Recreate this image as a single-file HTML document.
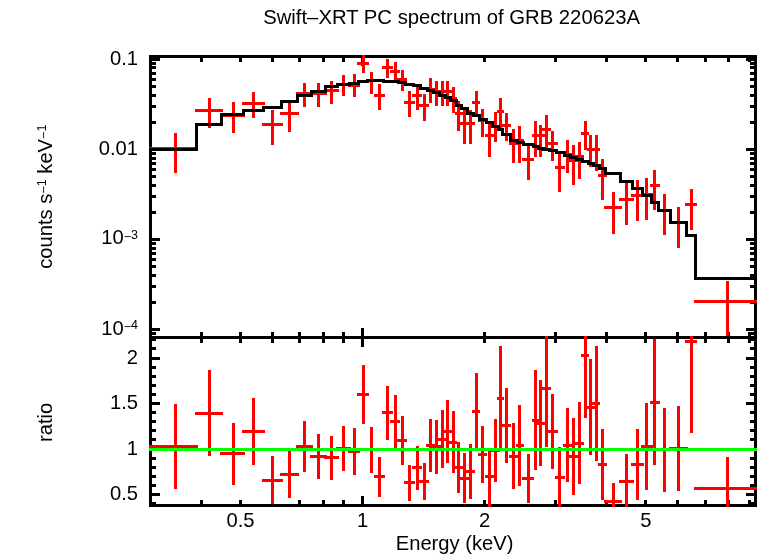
<!DOCTYPE html>
<html><head><meta charset="utf-8"><title>Swift-XRT PC spectrum of GRB 220623A</title>
<style>html,body{margin:0;padding:0;background:#fff;}svg{display:block;}text{font-family:"Liberation Sans",Arial,Helvetica,sans-serif;fill:#000;}</style>
</head><body>
<svg width="758" height="556" viewBox="0 0 758 556">
<rect width="758" height="556" fill="#fff"/>
<g shape-rendering="crispEdges">
<rect x="149" y="55" width="608" height="3" fill="#000"/>
<rect x="149" y="336" width="608" height="3" fill="#000"/>
<rect x="149" y="504" width="608" height="3" fill="#000"/>
<rect x="149" y="55" width="3" height="452" fill="#000"/>
<rect x="754" y="55" width="3" height="452" fill="#000"/>
<rect x="200" y="58" width="3" height="4" fill="#000"/>
<rect x="200" y="332" width="3" height="11" fill="#000"/>
<rect x="200" y="500" width="3" height="4" fill="#000"/>
<rect x="239" y="58" width="3" height="4" fill="#000"/>
<rect x="239" y="332" width="3" height="11" fill="#000"/>
<rect x="239" y="500" width="3" height="4" fill="#000"/>
<rect x="271" y="58" width="3" height="4" fill="#000"/>
<rect x="271" y="332" width="3" height="11" fill="#000"/>
<rect x="271" y="500" width="3" height="4" fill="#000"/>
<rect x="298" y="58" width="3" height="4" fill="#000"/>
<rect x="298" y="332" width="3" height="11" fill="#000"/>
<rect x="298" y="500" width="3" height="4" fill="#000"/>
<rect x="322" y="58" width="3" height="4" fill="#000"/>
<rect x="322" y="332" width="3" height="11" fill="#000"/>
<rect x="322" y="500" width="3" height="4" fill="#000"/>
<rect x="342" y="58" width="3" height="4" fill="#000"/>
<rect x="342" y="332" width="3" height="11" fill="#000"/>
<rect x="342" y="500" width="3" height="4" fill="#000"/>
<rect x="361" y="58" width="3" height="8" fill="#000"/>
<rect x="361" y="328" width="3" height="19" fill="#000"/>
<rect x="361" y="496" width="3" height="8" fill="#000"/>
<rect x="483" y="58" width="3" height="4" fill="#000"/>
<rect x="483" y="332" width="3" height="11" fill="#000"/>
<rect x="483" y="500" width="3" height="4" fill="#000"/>
<rect x="554" y="58" width="3" height="4" fill="#000"/>
<rect x="554" y="332" width="3" height="11" fill="#000"/>
<rect x="554" y="500" width="3" height="4" fill="#000"/>
<rect x="605" y="58" width="3" height="4" fill="#000"/>
<rect x="605" y="332" width="3" height="11" fill="#000"/>
<rect x="605" y="500" width="3" height="4" fill="#000"/>
<rect x="644" y="58" width="3" height="4" fill="#000"/>
<rect x="644" y="332" width="3" height="11" fill="#000"/>
<rect x="644" y="500" width="3" height="4" fill="#000"/>
<rect x="676" y="58" width="3" height="4" fill="#000"/>
<rect x="676" y="332" width="3" height="11" fill="#000"/>
<rect x="676" y="500" width="3" height="4" fill="#000"/>
<rect x="704" y="58" width="3" height="4" fill="#000"/>
<rect x="704" y="332" width="3" height="11" fill="#000"/>
<rect x="704" y="500" width="3" height="4" fill="#000"/>
<rect x="727" y="58" width="3" height="4" fill="#000"/>
<rect x="727" y="332" width="3" height="11" fill="#000"/>
<rect x="727" y="500" width="3" height="4" fill="#000"/>
<rect x="748" y="58" width="3" height="4" fill="#000"/>
<rect x="748" y="332" width="3" height="11" fill="#000"/>
<rect x="748" y="500" width="3" height="4" fill="#000"/>
<rect x="152" y="332" width="4" height="3" fill="#000"/>
<rect x="750" y="332" width="4" height="3" fill="#000"/>
<rect x="152" y="328" width="8" height="3" fill="#000"/>
<rect x="746" y="328" width="8" height="3" fill="#000"/>
<rect x="152" y="301" width="4" height="3" fill="#000"/>
<rect x="750" y="301" width="4" height="3" fill="#000"/>
<rect x="152" y="285" width="4" height="3" fill="#000"/>
<rect x="750" y="285" width="4" height="3" fill="#000"/>
<rect x="152" y="274" width="4" height="3" fill="#000"/>
<rect x="750" y="274" width="4" height="3" fill="#000"/>
<rect x="152" y="265" width="4" height="3" fill="#000"/>
<rect x="750" y="265" width="4" height="3" fill="#000"/>
<rect x="152" y="258" width="4" height="3" fill="#000"/>
<rect x="750" y="258" width="4" height="3" fill="#000"/>
<rect x="152" y="252" width="4" height="3" fill="#000"/>
<rect x="750" y="252" width="4" height="3" fill="#000"/>
<rect x="152" y="247" width="4" height="3" fill="#000"/>
<rect x="750" y="247" width="4" height="3" fill="#000"/>
<rect x="152" y="242" width="4" height="3" fill="#000"/>
<rect x="750" y="242" width="4" height="3" fill="#000"/>
<rect x="152" y="238" width="8" height="3" fill="#000"/>
<rect x="746" y="238" width="8" height="3" fill="#000"/>
<rect x="152" y="211" width="4" height="3" fill="#000"/>
<rect x="750" y="211" width="4" height="3" fill="#000"/>
<rect x="152" y="195" width="4" height="3" fill="#000"/>
<rect x="750" y="195" width="4" height="3" fill="#000"/>
<rect x="152" y="184" width="4" height="3" fill="#000"/>
<rect x="750" y="184" width="4" height="3" fill="#000"/>
<rect x="152" y="175" width="4" height="3" fill="#000"/>
<rect x="750" y="175" width="4" height="3" fill="#000"/>
<rect x="152" y="168" width="4" height="3" fill="#000"/>
<rect x="750" y="168" width="4" height="3" fill="#000"/>
<rect x="152" y="162" width="4" height="3" fill="#000"/>
<rect x="750" y="162" width="4" height="3" fill="#000"/>
<rect x="152" y="157" width="4" height="3" fill="#000"/>
<rect x="750" y="157" width="4" height="3" fill="#000"/>
<rect x="152" y="152" width="4" height="3" fill="#000"/>
<rect x="750" y="152" width="4" height="3" fill="#000"/>
<rect x="152" y="148" width="8" height="3" fill="#000"/>
<rect x="746" y="148" width="8" height="3" fill="#000"/>
<rect x="152" y="121" width="4" height="3" fill="#000"/>
<rect x="750" y="121" width="4" height="3" fill="#000"/>
<rect x="152" y="105" width="4" height="3" fill="#000"/>
<rect x="750" y="105" width="4" height="3" fill="#000"/>
<rect x="152" y="94" width="4" height="3" fill="#000"/>
<rect x="750" y="94" width="4" height="3" fill="#000"/>
<rect x="152" y="85" width="4" height="3" fill="#000"/>
<rect x="750" y="85" width="4" height="3" fill="#000"/>
<rect x="152" y="78" width="4" height="3" fill="#000"/>
<rect x="750" y="78" width="4" height="3" fill="#000"/>
<rect x="152" y="72" width="4" height="3" fill="#000"/>
<rect x="750" y="72" width="4" height="3" fill="#000"/>
<rect x="152" y="66" width="4" height="3" fill="#000"/>
<rect x="750" y="66" width="4" height="3" fill="#000"/>
<rect x="152" y="62" width="4" height="3" fill="#000"/>
<rect x="750" y="62" width="4" height="3" fill="#000"/>
<rect x="152" y="58" width="8" height="3" fill="#000"/>
<rect x="746" y="58" width="8" height="3" fill="#000"/>
<rect x="152" y="502" width="4" height="3" fill="#000"/>
<rect x="750" y="502" width="4" height="3" fill="#000"/>
<rect x="152" y="493" width="8" height="3" fill="#000"/>
<rect x="746" y="493" width="8" height="3" fill="#000"/>
<rect x="152" y="484" width="4" height="3" fill="#000"/>
<rect x="750" y="484" width="4" height="3" fill="#000"/>
<rect x="152" y="475" width="4" height="3" fill="#000"/>
<rect x="750" y="475" width="4" height="3" fill="#000"/>
<rect x="152" y="466" width="4" height="3" fill="#000"/>
<rect x="750" y="466" width="4" height="3" fill="#000"/>
<rect x="152" y="457" width="4" height="3" fill="#000"/>
<rect x="750" y="457" width="4" height="3" fill="#000"/>
<rect x="152" y="448" width="8" height="3" fill="#000"/>
<rect x="746" y="448" width="8" height="3" fill="#000"/>
<rect x="152" y="438" width="4" height="3" fill="#000"/>
<rect x="750" y="438" width="4" height="3" fill="#000"/>
<rect x="152" y="429" width="4" height="3" fill="#000"/>
<rect x="750" y="429" width="4" height="3" fill="#000"/>
<rect x="152" y="420" width="4" height="3" fill="#000"/>
<rect x="750" y="420" width="4" height="3" fill="#000"/>
<rect x="152" y="411" width="4" height="3" fill="#000"/>
<rect x="750" y="411" width="4" height="3" fill="#000"/>
<rect x="152" y="402" width="8" height="3" fill="#000"/>
<rect x="746" y="402" width="8" height="3" fill="#000"/>
<rect x="152" y="393" width="4" height="3" fill="#000"/>
<rect x="750" y="393" width="4" height="3" fill="#000"/>
<rect x="152" y="384" width="4" height="3" fill="#000"/>
<rect x="750" y="384" width="4" height="3" fill="#000"/>
<rect x="152" y="375" width="4" height="3" fill="#000"/>
<rect x="750" y="375" width="4" height="3" fill="#000"/>
<rect x="152" y="366" width="4" height="3" fill="#000"/>
<rect x="750" y="366" width="4" height="3" fill="#000"/>
<rect x="152" y="357" width="8" height="3" fill="#000"/>
<rect x="746" y="357" width="8" height="3" fill="#000"/>
<rect x="152" y="347" width="4" height="3" fill="#000"/>
<rect x="750" y="347" width="4" height="3" fill="#000"/>
<rect x="152" y="338" width="4" height="3" fill="#000"/>
<rect x="750" y="338" width="4" height="3" fill="#000"/>
<rect x="149" y="147" width="49" height="3" fill="#f00"/>
<rect x="174" y="133" width="3" height="40" fill="#f00"/>
<rect x="195" y="109" width="28" height="3" fill="#f00"/>
<rect x="208" y="98" width="3" height="30" fill="#f00"/>
<rect x="220" y="114" width="25" height="3" fill="#f00"/>
<rect x="232" y="102" width="3" height="31" fill="#f00"/>
<rect x="242" y="102" width="23" height="3" fill="#f00"/>
<rect x="252" y="92" width="3" height="26" fill="#f00"/>
<rect x="262" y="123" width="21" height="3" fill="#f00"/>
<rect x="271" y="110" width="3" height="35" fill="#f00"/>
<rect x="280" y="112" width="19" height="3" fill="#f00"/>
<rect x="288" y="103" width="3" height="29" fill="#f00"/>
<rect x="296" y="92" width="17" height="3" fill="#f00"/>
<rect x="303" y="83" width="3" height="24" fill="#f00"/>
<rect x="310" y="92" width="17" height="3" fill="#f00"/>
<rect x="317" y="83" width="3" height="24" fill="#f00"/>
<rect x="324" y="89" width="15" height="3" fill="#f00"/>
<rect x="330" y="81" width="3" height="23" fill="#f00"/>
<rect x="336" y="83" width="15" height="3" fill="#f00"/>
<rect x="342" y="75" width="3" height="21" fill="#f00"/>
<rect x="348" y="84" width="12" height="3" fill="#f00"/>
<rect x="353" y="74" width="3" height="23" fill="#f00"/>
<rect x="357" y="62" width="12" height="3" fill="#f00"/>
<rect x="362" y="55" width="3" height="18" fill="#f00"/>
<rect x="366" y="79" width="11" height="3" fill="#f00"/>
<rect x="370" y="72" width="3" height="22" fill="#f00"/>
<rect x="374" y="94" width="11" height="3" fill="#f00"/>
<rect x="378" y="84" width="3" height="26" fill="#f00"/>
<rect x="382" y="66" width="11" height="3" fill="#f00"/>
<rect x="386" y="59" width="3" height="19" fill="#f00"/>
<rect x="390" y="70" width="10" height="3" fill="#f00"/>
<rect x="394" y="62" width="3" height="18" fill="#f00"/>
<rect x="397" y="78" width="10" height="3" fill="#f00"/>
<rect x="401" y="70" width="3" height="21" fill="#f00"/>
<rect x="404" y="101" width="11" height="3" fill="#f00"/>
<rect x="408" y="91" width="3" height="26" fill="#f00"/>
<rect x="412" y="94" width="10" height="3" fill="#f00"/>
<rect x="416" y="87" width="3" height="23" fill="#f00"/>
<rect x="419" y="104" width="10" height="3" fill="#f00"/>
<rect x="423" y="94" width="3" height="27" fill="#f00"/>
<rect x="426" y="88" width="9" height="3" fill="#f00"/>
<rect x="429" y="78" width="3" height="25" fill="#f00"/>
<rect x="432" y="90" width="9" height="3" fill="#f00"/>
<rect x="435" y="81" width="3" height="25" fill="#f00"/>
<rect x="438" y="90" width="8" height="3" fill="#f00"/>
<rect x="441" y="81" width="3" height="25" fill="#f00"/>
<rect x="444" y="90" width="8" height="3" fill="#f00"/>
<rect x="446" y="81" width="3" height="25" fill="#f00"/>
<rect x="449" y="97" width="8" height="3" fill="#f00"/>
<rect x="452" y="87" width="3" height="26" fill="#f00"/>
<rect x="455" y="112" width="8" height="3" fill="#f00"/>
<rect x="457" y="101" width="3" height="30" fill="#f00"/>
<rect x="460" y="122" width="9" height="3" fill="#f00"/>
<rect x="463" y="110" width="3" height="34" fill="#f00"/>
<rect x="466" y="122" width="9" height="3" fill="#f00"/>
<rect x="469" y="110" width="3" height="34" fill="#f00"/>
<rect x="472" y="101" width="8" height="3" fill="#f00"/>
<rect x="475" y="91" width="3" height="26" fill="#f00"/>
<rect x="478" y="119" width="9" height="3" fill="#f00"/>
<rect x="481" y="109" width="3" height="28" fill="#f00"/>
<rect x="485" y="134" width="9" height="3" fill="#f00"/>
<rect x="488" y="123" width="3" height="34" fill="#f00"/>
<rect x="491" y="125" width="9" height="3" fill="#f00"/>
<rect x="494" y="112" width="3" height="30" fill="#f00"/>
<rect x="497" y="110" width="7" height="3" fill="#f00"/>
<rect x="499" y="98" width="3" height="30" fill="#f00"/>
<rect x="501" y="124" width="10" height="3" fill="#f00"/>
<rect x="505" y="113" width="3" height="28" fill="#f00"/>
<rect x="509" y="142" width="9" height="3" fill="#f00"/>
<rect x="512" y="129" width="3" height="34" fill="#f00"/>
<rect x="516" y="139" width="8" height="3" fill="#f00"/>
<rect x="518" y="126" width="3" height="37" fill="#f00"/>
<rect x="522" y="158" width="12" height="3" fill="#f00"/>
<rect x="527" y="145" width="3" height="35" fill="#f00"/>
<rect x="532" y="134" width="7" height="3" fill="#f00"/>
<rect x="534" y="121" width="3" height="36" fill="#f00"/>
<rect x="537" y="134" width="8" height="3" fill="#f00"/>
<rect x="539" y="125" width="3" height="32" fill="#f00"/>
<rect x="542" y="128" width="9" height="3" fill="#f00"/>
<rect x="545" y="115" width="3" height="33" fill="#f00"/>
<rect x="548" y="142" width="10" height="3" fill="#f00"/>
<rect x="551" y="131" width="3" height="30" fill="#f00"/>
<rect x="555" y="166" width="10" height="3" fill="#f00"/>
<rect x="558" y="153" width="3" height="39" fill="#f00"/>
<rect x="563" y="153" width="9" height="3" fill="#f00"/>
<rect x="566" y="140" width="3" height="33" fill="#f00"/>
<rect x="569" y="159" width="9" height="3" fill="#f00"/>
<rect x="572" y="145" width="3" height="40" fill="#f00"/>
<rect x="575" y="155" width="9" height="3" fill="#f00"/>
<rect x="578" y="142" width="3" height="37" fill="#f00"/>
<rect x="581" y="132" width="8" height="3" fill="#f00"/>
<rect x="584" y="121" width="3" height="29" fill="#f00"/>
<rect x="587" y="148" width="8" height="3" fill="#f00"/>
<rect x="589" y="135" width="3" height="32" fill="#f00"/>
<rect x="592" y="148" width="8" height="3" fill="#f00"/>
<rect x="595" y="135" width="3" height="36" fill="#f00"/>
<rect x="598" y="174" width="9" height="3" fill="#f00"/>
<rect x="601" y="159" width="3" height="41" fill="#f00"/>
<rect x="604" y="206" width="18" height="3" fill="#f00"/>
<rect x="612" y="192" width="3" height="42" fill="#f00"/>
<rect x="619" y="198" width="15" height="3" fill="#f00"/>
<rect x="625" y="183" width="3" height="42" fill="#f00"/>
<rect x="631" y="194" width="13" height="3" fill="#f00"/>
<rect x="636" y="180" width="3" height="41" fill="#f00"/>
<rect x="641" y="193" width="12" height="3" fill="#f00"/>
<rect x="645" y="178" width="3" height="42" fill="#f00"/>
<rect x="650" y="184" width="10" height="3" fill="#f00"/>
<rect x="653" y="170" width="3" height="40" fill="#f00"/>
<rect x="657" y="209" width="15" height="3" fill="#f00"/>
<rect x="663" y="194" width="3" height="41" fill="#f00"/>
<rect x="669" y="221" width="19" height="3" fill="#f00"/>
<rect x="677" y="207" width="3" height="41" fill="#f00"/>
<rect x="685" y="203" width="12" height="3" fill="#f00"/>
<rect x="690" y="189" width="3" height="41" fill="#f00"/>
<rect x="694" y="300" width="63" height="3" fill="#f00"/>
<rect x="726" y="281" width="3" height="55" fill="#f00"/>
<rect x="149" y="148" width="49" height="3" fill="#000"/>
<rect x="195" y="123" width="28" height="3" fill="#000"/>
<rect x="195" y="123" width="3" height="28" fill="#000"/>
<rect x="220" y="113" width="25" height="3" fill="#000"/>
<rect x="220" y="113" width="3" height="13" fill="#000"/>
<rect x="242" y="109" width="23" height="3" fill="#000"/>
<rect x="242" y="109" width="3" height="7" fill="#000"/>
<rect x="262" y="106" width="21" height="3" fill="#000"/>
<rect x="262" y="106" width="3" height="6" fill="#000"/>
<rect x="280" y="100" width="19" height="3" fill="#000"/>
<rect x="280" y="100" width="3" height="9" fill="#000"/>
<rect x="296" y="94" width="17" height="3" fill="#000"/>
<rect x="296" y="94" width="3" height="9" fill="#000"/>
<rect x="310" y="90" width="17" height="3" fill="#000"/>
<rect x="310" y="90" width="3" height="7" fill="#000"/>
<rect x="324" y="85" width="15" height="3" fill="#000"/>
<rect x="324" y="85" width="3" height="8" fill="#000"/>
<rect x="336" y="83" width="15" height="3" fill="#000"/>
<rect x="336" y="83" width="3" height="5" fill="#000"/>
<rect x="348" y="82" width="12" height="3" fill="#000"/>
<rect x="348" y="82" width="3" height="4" fill="#000"/>
<rect x="357" y="80" width="12" height="3" fill="#000"/>
<rect x="357" y="80" width="3" height="5" fill="#000"/>
<rect x="366" y="79" width="11" height="3" fill="#000"/>
<rect x="366" y="79" width="3" height="4" fill="#000"/>
<rect x="374" y="79" width="11" height="3" fill="#000"/>
<rect x="374" y="79" width="3" height="3" fill="#000"/>
<rect x="382" y="80" width="11" height="3" fill="#000"/>
<rect x="382" y="79" width="3" height="4" fill="#000"/>
<rect x="390" y="80" width="10" height="3" fill="#000"/>
<rect x="390" y="80" width="3" height="3" fill="#000"/>
<rect x="397" y="81" width="10" height="3" fill="#000"/>
<rect x="397" y="80" width="3" height="4" fill="#000"/>
<rect x="404" y="83" width="11" height="3" fill="#000"/>
<rect x="404" y="81" width="3" height="5" fill="#000"/>
<rect x="412" y="84" width="10" height="3" fill="#000"/>
<rect x="412" y="83" width="3" height="4" fill="#000"/>
<rect x="419" y="87" width="10" height="3" fill="#000"/>
<rect x="419" y="84" width="3" height="6" fill="#000"/>
<rect x="426" y="89" width="9" height="3" fill="#000"/>
<rect x="426" y="87" width="3" height="5" fill="#000"/>
<rect x="432" y="91" width="9" height="3" fill="#000"/>
<rect x="432" y="89" width="3" height="5" fill="#000"/>
<rect x="438" y="94" width="9" height="3" fill="#000"/>
<rect x="438" y="91" width="3" height="6" fill="#000"/>
<rect x="444" y="96" width="8" height="3" fill="#000"/>
<rect x="444" y="94" width="3" height="5" fill="#000"/>
<rect x="449" y="99" width="9" height="3" fill="#000"/>
<rect x="449" y="96" width="3" height="6" fill="#000"/>
<rect x="455" y="104" width="8" height="3" fill="#000"/>
<rect x="455" y="99" width="3" height="8" fill="#000"/>
<rect x="460" y="107" width="9" height="3" fill="#000"/>
<rect x="460" y="104" width="3" height="6" fill="#000"/>
<rect x="466" y="112" width="9" height="3" fill="#000"/>
<rect x="466" y="107" width="3" height="8" fill="#000"/>
<rect x="472" y="114" width="9" height="3" fill="#000"/>
<rect x="472" y="112" width="3" height="5" fill="#000"/>
<rect x="478" y="118" width="10" height="3" fill="#000"/>
<rect x="478" y="114" width="3" height="7" fill="#000"/>
<rect x="485" y="121" width="9" height="3" fill="#000"/>
<rect x="485" y="118" width="3" height="6" fill="#000"/>
<rect x="491" y="125" width="9" height="3" fill="#000"/>
<rect x="491" y="121" width="3" height="7" fill="#000"/>
<rect x="497" y="128" width="7" height="3" fill="#000"/>
<rect x="497" y="125" width="3" height="6" fill="#000"/>
<rect x="501" y="133" width="11" height="3" fill="#000"/>
<rect x="501" y="128" width="3" height="8" fill="#000"/>
<rect x="509" y="139" width="10" height="3" fill="#000"/>
<rect x="509" y="133" width="3" height="9" fill="#000"/>
<rect x="516" y="141" width="9" height="3" fill="#000"/>
<rect x="516" y="139" width="3" height="5" fill="#000"/>
<rect x="522" y="143" width="13" height="3" fill="#000"/>
<rect x="522" y="141" width="3" height="5" fill="#000"/>
<rect x="532" y="145" width="8" height="3" fill="#000"/>
<rect x="532" y="143" width="3" height="5" fill="#000"/>
<rect x="537" y="147" width="8" height="3" fill="#000"/>
<rect x="537" y="145" width="3" height="5" fill="#000"/>
<rect x="542" y="148" width="9" height="3" fill="#000"/>
<rect x="542" y="147" width="3" height="4" fill="#000"/>
<rect x="548" y="149" width="10" height="3" fill="#000"/>
<rect x="548" y="148" width="3" height="4" fill="#000"/>
<rect x="555" y="151" width="11" height="3" fill="#000"/>
<rect x="555" y="149" width="3" height="5" fill="#000"/>
<rect x="563" y="154" width="9" height="3" fill="#000"/>
<rect x="563" y="151" width="3" height="6" fill="#000"/>
<rect x="569" y="156" width="9" height="3" fill="#000"/>
<rect x="569" y="154" width="3" height="5" fill="#000"/>
<rect x="575" y="158" width="9" height="3" fill="#000"/>
<rect x="575" y="156" width="3" height="5" fill="#000"/>
<rect x="581" y="160" width="9" height="3" fill="#000"/>
<rect x="581" y="158" width="3" height="5" fill="#000"/>
<rect x="587" y="162" width="8" height="3" fill="#000"/>
<rect x="587" y="160" width="3" height="5" fill="#000"/>
<rect x="592" y="164" width="9" height="3" fill="#000"/>
<rect x="592" y="162" width="3" height="5" fill="#000"/>
<rect x="598" y="167" width="9" height="3" fill="#000"/>
<rect x="598" y="164" width="3" height="6" fill="#000"/>
<rect x="604" y="172" width="18" height="3" fill="#000"/>
<rect x="604" y="167" width="3" height="8" fill="#000"/>
<rect x="619" y="180" width="15" height="3" fill="#000"/>
<rect x="619" y="172" width="3" height="11" fill="#000"/>
<rect x="631" y="187" width="13" height="3" fill="#000"/>
<rect x="631" y="180" width="3" height="10" fill="#000"/>
<rect x="641" y="194" width="12" height="3" fill="#000"/>
<rect x="641" y="187" width="3" height="10" fill="#000"/>
<rect x="650" y="201" width="10" height="3" fill="#000"/>
<rect x="650" y="194" width="3" height="10" fill="#000"/>
<rect x="657" y="209" width="15" height="3" fill="#000"/>
<rect x="657" y="201" width="3" height="11" fill="#000"/>
<rect x="669" y="221" width="19" height="3" fill="#000"/>
<rect x="669" y="209" width="3" height="15" fill="#000"/>
<rect x="685" y="234" width="12" height="3" fill="#000"/>
<rect x="685" y="221" width="3" height="16" fill="#000"/>
<rect x="694" y="277" width="63" height="3" fill="#000"/>
<rect x="694" y="234" width="3" height="46" fill="#000"/>
<rect x="149" y="445" width="49" height="3" fill="#f00"/>
<rect x="174" y="404" width="3" height="85" fill="#f00"/>
<rect x="195" y="412" width="28" height="3" fill="#f00"/>
<rect x="208" y="370" width="3" height="86" fill="#f00"/>
<rect x="220" y="452" width="25" height="3" fill="#f00"/>
<rect x="232" y="423" width="3" height="62" fill="#f00"/>
<rect x="242" y="430" width="23" height="3" fill="#f00"/>
<rect x="252" y="398" width="3" height="67" fill="#f00"/>
<rect x="262" y="479" width="21" height="3" fill="#f00"/>
<rect x="271" y="456" width="3" height="48" fill="#f00"/>
<rect x="280" y="473" width="19" height="3" fill="#f00"/>
<rect x="288" y="451" width="3" height="47" fill="#f00"/>
<rect x="296" y="445" width="17" height="3" fill="#f00"/>
<rect x="303" y="421" width="3" height="51" fill="#f00"/>
<rect x="310" y="455" width="17" height="3" fill="#f00"/>
<rect x="317" y="434" width="3" height="45" fill="#f00"/>
<rect x="324" y="456" width="15" height="3" fill="#f00"/>
<rect x="330" y="436" width="3" height="44" fill="#f00"/>
<rect x="336" y="447" width="15" height="3" fill="#f00"/>
<rect x="342" y="426" width="3" height="45" fill="#f00"/>
<rect x="348" y="450" width="12" height="3" fill="#f00"/>
<rect x="353" y="428" width="3" height="47" fill="#f00"/>
<rect x="357" y="393" width="12" height="3" fill="#f00"/>
<rect x="362" y="365" width="3" height="59" fill="#f00"/>
<rect x="366" y="448" width="11" height="3" fill="#f00"/>
<rect x="370" y="427" width="3" height="46" fill="#f00"/>
<rect x="374" y="475" width="11" height="3" fill="#f00"/>
<rect x="378" y="457" width="3" height="40" fill="#f00"/>
<rect x="382" y="411" width="11" height="3" fill="#f00"/>
<rect x="386" y="386" width="3" height="54" fill="#f00"/>
<rect x="390" y="420" width="10" height="3" fill="#f00"/>
<rect x="394" y="395" width="3" height="53" fill="#f00"/>
<rect x="397" y="439" width="10" height="3" fill="#f00"/>
<rect x="401" y="416" width="3" height="49" fill="#f00"/>
<rect x="404" y="481" width="11" height="3" fill="#f00"/>
<rect x="408" y="465" width="3" height="36" fill="#f00"/>
<rect x="412" y="466" width="10" height="3" fill="#f00"/>
<rect x="416" y="446" width="3" height="44" fill="#f00"/>
<rect x="419" y="480" width="10" height="3" fill="#f00"/>
<rect x="423" y="463" width="3" height="37" fill="#f00"/>
<rect x="426" y="444" width="9" height="3" fill="#f00"/>
<rect x="429" y="419" width="3" height="53" fill="#f00"/>
<rect x="432" y="445" width="9" height="3" fill="#f00"/>
<rect x="435" y="420" width="3" height="54" fill="#f00"/>
<rect x="438" y="438" width="8" height="3" fill="#f00"/>
<rect x="441" y="410" width="3" height="58" fill="#f00"/>
<rect x="444" y="430" width="8" height="3" fill="#f00"/>
<rect x="446" y="400" width="3" height="63" fill="#f00"/>
<rect x="449" y="441" width="8" height="3" fill="#f00"/>
<rect x="452" y="411" width="3" height="62" fill="#f00"/>
<rect x="455" y="466" width="8" height="3" fill="#f00"/>
<rect x="457" y="442" width="3" height="51" fill="#f00"/>
<rect x="460" y="477" width="9" height="3" fill="#f00"/>
<rect x="463" y="453" width="3" height="50" fill="#f00"/>
<rect x="466" y="470" width="9" height="3" fill="#f00"/>
<rect x="469" y="444" width="3" height="55" fill="#f00"/>
<rect x="472" y="410" width="8" height="3" fill="#f00"/>
<rect x="475" y="373" width="3" height="77" fill="#f00"/>
<rect x="478" y="453" width="9" height="3" fill="#f00"/>
<rect x="481" y="426" width="3" height="57" fill="#f00"/>
<rect x="485" y="475" width="9" height="3" fill="#f00"/>
<rect x="488" y="451" width="3" height="56" fill="#f00"/>
<rect x="491" y="449" width="9" height="3" fill="#f00"/>
<rect x="494" y="419" width="3" height="63" fill="#f00"/>
<rect x="497" y="397" width="7" height="3" fill="#f00"/>
<rect x="499" y="346" width="3" height="104" fill="#f00"/>
<rect x="501" y="424" width="10" height="3" fill="#f00"/>
<rect x="505" y="388" width="3" height="75" fill="#f00"/>
<rect x="509" y="455" width="9" height="3" fill="#f00"/>
<rect x="512" y="423" width="3" height="66" fill="#f00"/>
<rect x="516" y="444" width="8" height="3" fill="#f00"/>
<rect x="518" y="405" width="3" height="81" fill="#f00"/>
<rect x="522" y="477" width="12" height="3" fill="#f00"/>
<rect x="527" y="454" width="3" height="49" fill="#f00"/>
<rect x="532" y="419" width="7" height="3" fill="#f00"/>
<rect x="534" y="370" width="3" height="100" fill="#f00"/>
<rect x="537" y="422" width="8" height="3" fill="#f00"/>
<rect x="539" y="380" width="3" height="86" fill="#f00"/>
<rect x="542" y="387" width="9" height="3" fill="#f00"/>
<rect x="545" y="336" width="3" height="111" fill="#f00"/>
<rect x="548" y="430" width="10" height="3" fill="#f00"/>
<rect x="551" y="394" width="3" height="75" fill="#f00"/>
<rect x="555" y="476" width="10" height="3" fill="#f00"/>
<rect x="558" y="447" width="3" height="60" fill="#f00"/>
<rect x="563" y="444" width="9" height="3" fill="#f00"/>
<rect x="566" y="408" width="3" height="74" fill="#f00"/>
<rect x="569" y="455" width="9" height="3" fill="#f00"/>
<rect x="572" y="418" width="3" height="77" fill="#f00"/>
<rect x="575" y="442" width="9" height="3" fill="#f00"/>
<rect x="578" y="402" width="3" height="82" fill="#f00"/>
<rect x="581" y="354" width="8" height="3" fill="#f00"/>
<rect x="584" y="336" width="3" height="82" fill="#f00"/>
<rect x="587" y="406" width="8" height="3" fill="#f00"/>
<rect x="589" y="359" width="3" height="96" fill="#f00"/>
<rect x="592" y="402" width="8" height="3" fill="#f00"/>
<rect x="595" y="346" width="3" height="115" fill="#f00"/>
<rect x="598" y="463" width="9" height="3" fill="#f00"/>
<rect x="601" y="429" width="3" height="71" fill="#f00"/>
<rect x="604" y="500" width="18" height="3" fill="#f00"/>
<rect x="612" y="483" width="3" height="24" fill="#f00"/>
<rect x="619" y="480" width="15" height="3" fill="#f00"/>
<rect x="625" y="454" width="3" height="53" fill="#f00"/>
<rect x="631" y="463" width="13" height="3" fill="#f00"/>
<rect x="636" y="429" width="3" height="71" fill="#f00"/>
<rect x="641" y="445" width="12" height="3" fill="#f00"/>
<rect x="645" y="403" width="3" height="87" fill="#f00"/>
<rect x="650" y="401" width="10" height="3" fill="#f00"/>
<rect x="653" y="339" width="3" height="126" fill="#f00"/>
<rect x="657" y="448" width="15" height="3" fill="#f00"/>
<rect x="663" y="408" width="3" height="84" fill="#f00"/>
<rect x="669" y="447" width="19" height="3" fill="#f00"/>
<rect x="677" y="406" width="3" height="85" fill="#f00"/>
<rect x="685" y="340" width="12" height="3" fill="#f00"/>
<rect x="690" y="336" width="3" height="97" fill="#f00"/>
<rect x="694" y="487" width="63" height="3" fill="#f00"/>
<rect x="726" y="457" width="3" height="50" fill="#f00"/>
<rect x="149" y="448" width="608" height="3" fill="#0f0"/>
</g>
<g>
<text x="451.6" y="24.3" font-size="20.3" text-anchor="middle" >Swift<tspan dy="-0.7">–</tspan><tspan dy="0.7">XRT PC spectrum of GRB 220623A</tspan></text>
<text x="454.6" y="550.4" font-size="20.2" text-anchor="middle" >Energy (keV)</text>
<text x="240.5" y="526.8" font-size="20.2" text-anchor="middle" >0.5</text>
<text x="362.5" y="526.8" font-size="20.2" text-anchor="middle" >1</text>
<text x="484.5" y="526.8" font-size="20.2" text-anchor="middle" >2</text>
<text x="645.8" y="526.8" font-size="20.2" text-anchor="middle" >5</text>
<text x="138" y="64.6" font-size="20.2" text-anchor="end" >0.1</text>
<text x="138" y="154.8" font-size="20.2" text-anchor="end" >0.01</text>
<text x="138" y="244.4" font-size="20.2" text-anchor="end">10<tspan font-size="12.5" dy="-3.3">−</tspan><tspan font-size="12.5" dy="-2.2">3</tspan></text>
<text x="138" y="334.5" font-size="20.2" text-anchor="end">10<tspan font-size="12.5" dy="-3.3">−</tspan><tspan font-size="12.5" dy="-2.2">4</tspan></text>
<text x="138" y="363.7" font-size="20.2" text-anchor="end" >2</text>
<text x="138" y="409.2" font-size="20.2" text-anchor="end" >1.5</text>
<text x="138" y="454.7" font-size="20.2" text-anchor="end" >1</text>
<text x="138" y="500.2" font-size="20.2" text-anchor="end" >0.5</text>
<text transform="translate(51.5,196.7) rotate(-90)" font-size="20.2" text-anchor="middle">counts s<tspan font-size="12.5" dy="-3.3">−</tspan><tspan font-size="12.5" dy="-2.2">1</tspan><tspan dy="5.5"> keV</tspan><tspan font-size="12.5" dy="-3.3">−</tspan><tspan font-size="12.5" dy="-2.2">1</tspan></text>
<text transform="translate(52,422.4) rotate(-90)" font-size="20.2" text-anchor="middle">ratio</text>
</g>
</svg>
</body></html>
